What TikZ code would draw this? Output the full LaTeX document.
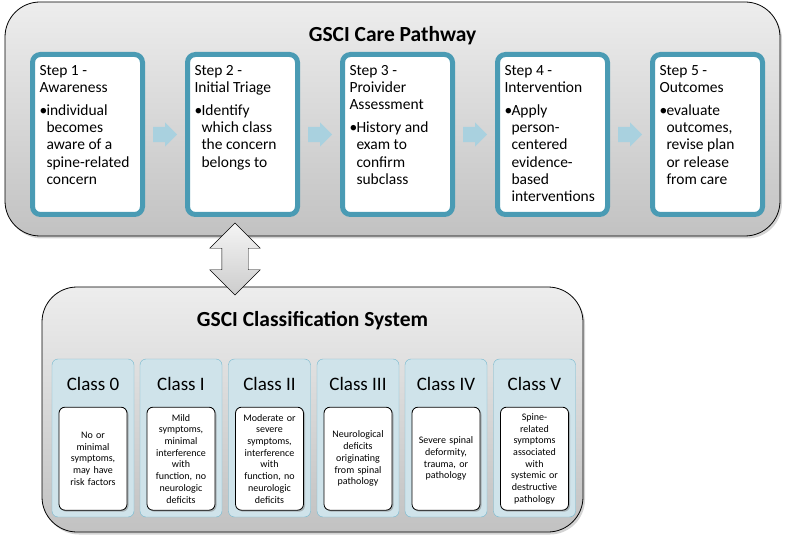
\documentclass[tikz,border=0pt]{standalone}
\usepackage{fontspec}
\setmainfont{Carlito}
\usetikzlibrary{shapes.arrows,shadows,positioning}

\definecolor{steprim}{HTML}{4A9BB4}
\definecolor{flowblue}{HTML}{A9D1DF}
\definecolor{classfill}{HTML}{CFE3EA}
\definecolor{classrim}{HTML}{74B8CE}

% text blocks inside the boxes
\newcommand{\stepcard}[2]{\parbox[c][139pt][t]{96pt}{\raggedright #1\par\vspace{6pt}%
  \noindent\makebox[7pt][l]{•}\parbox[t]{89pt}{\raggedright #2}}}
\newcommand{\classcard}[1]{\parbox[c][122pt][t]{80pt}{\centering #1}}

\begin{document}
\begin{tikzpicture}[x=1pt,y=-1pt]
\tikzstyle{panel}=[draw, thick, rounded corners=35pt, top color=gray!14, bottom color=gray!48, drop shadow={opacity=0.35, shadow xshift=2pt, shadow yshift=-2.5pt}]
\tikzstyle{paneltitle}=[font=\bfseries\fontsize{21.5}{25}\selectfont]
\tikzstyle{stepbox}=[draw=steprim, line width=5pt, fill=white, rounded corners=8pt, minimum width=110pt, minimum height=160pt, inner sep=0pt, font=\fontsize{15.5}{17.2}\selectfont, drop shadow={opacity=0.25, shadow xshift=1.5pt, shadow yshift=-1.5pt}]
\tikzstyle{flowarrow}=[single arrow, fill=flowblue, minimum height=24pt, single arrow head extend=4.5pt, inner sep=7.5pt]
\tikzstyle{linkarrow}=[double arrow, shape border rotate=90, draw=black, top color=gray!8, bottom color=gray!40, minimum height=72pt, double arrow head extend=12pt, inner sep=13pt]
\tikzstyle{classbox}=[draw=classrim, fill=classfill, rounded corners=6pt, minimum width=82pt, minimum height=158pt, inner sep=0pt, font=\fontsize{19}{22}\selectfont]
\tikzstyle{descbox}=[draw=black, thick, fill=white, rounded corners=6pt, minimum width=68pt, minimum height=103pt, text width=64pt, align=center, inner sep=0pt, font=\fontsize{10}{11.7}\selectfont, drop shadow={opacity=0.5, shadow xshift=1.5pt, shadow yshift=-1.5pt}]
\useasboundingbox (0,0) rectangle (785,540);

% care pathway
\node[panel, minimum width=775pt, minimum height=234pt] (care) at (392.5,119) {};
\node[paneltitle] (caretitle) at (392.5,36) {GSCI Care Pathway};

\node[stepbox] (s1) at (87.5,134.5) {\stepcard{Step 1 -\\Awareness}{individual\\becomes\\aware of a\\spine-related\\concern}};
\node[stepbox, right=40pt of s1] (s2) {\stepcard{Step 2 -\\Initial Triage}{Identify\\which class\\the concern\\belongs to}};
\node[stepbox, right=40pt of s2] (s3) {\stepcard{Step 3 -\\Proivider\\Assessment}{History and\\exam to\\confirm\\subclass}};
\node[stepbox, right=40pt of s3] (s4) {\stepcard{Step 4 -\\Intervention}{Apply\\person-\\centered\\evidence-\\based\\interventions}};
\node[stepbox, right=40pt of s4] (s5) {\stepcard{Step 5 -\\Outcomes}{evaluate\\outcomes,\\revise plan\\or release\\from care}};

\node[flowarrow, right=8pt of s1] (f12) {};
\node[flowarrow, right=8pt of s2] (f23) {};
\node[flowarrow, right=8pt of s3] (f34) {};
\node[flowarrow, right=8pt of s4] (f45) {};

% classification system
\node[panel, minimum width=541pt, minimum height=245pt] (gsci) at (312.5,409.5) {};
\node[paneltitle] (gscititle) at (312.5,321) {GSCI Classification System};

\node[linkarrow] (link) at (235,259) {};

\node[classbox] (c0) at (93,438) {\classcard{Class 0}};
\node[classbox] (c1) at (181,438) {\classcard{Class I}};
\node[classbox] (c2) at (269.5,438) {\classcard{Class II}};
\node[classbox] (c3) at (358,438) {\classcard{Class III}};
\node[classbox] (c4) at (446,438) {\classcard{Class IV}};
\node[classbox] (c5) at (534.5,438) {\classcard{Class V}};

\node[descbox, below=48pt of c0.north] (d0) {No or\\minimal\\symptoms,\\may have\\risk factors};
\node[descbox, below=48pt of c1.north] (d1) {Mild\\symptoms,\\minimal\\interference\\with\\function, no\\neurologic\\deficits};
\node[descbox, below=48pt of c2.north] (d2) {Moderate or\\severe\\symptoms,\\interference\\with\\function, no\\neurologic\\deficits};
\node[descbox, below=48pt of c3.north] (d3) {Neurological\\deficits\\originating\\from spinal\\pathology};
\node[descbox, below=48pt of c4.north] (d4) {Severe spinal\\deformity,\\trauma, or\\pathology};
\node[descbox, below=48pt of c5.north] (d5) {Spine-\\related\\symptoms\\associated\\with\\systemic or\\destructive\\pathology};

\end{tikzpicture}
\end{document}
